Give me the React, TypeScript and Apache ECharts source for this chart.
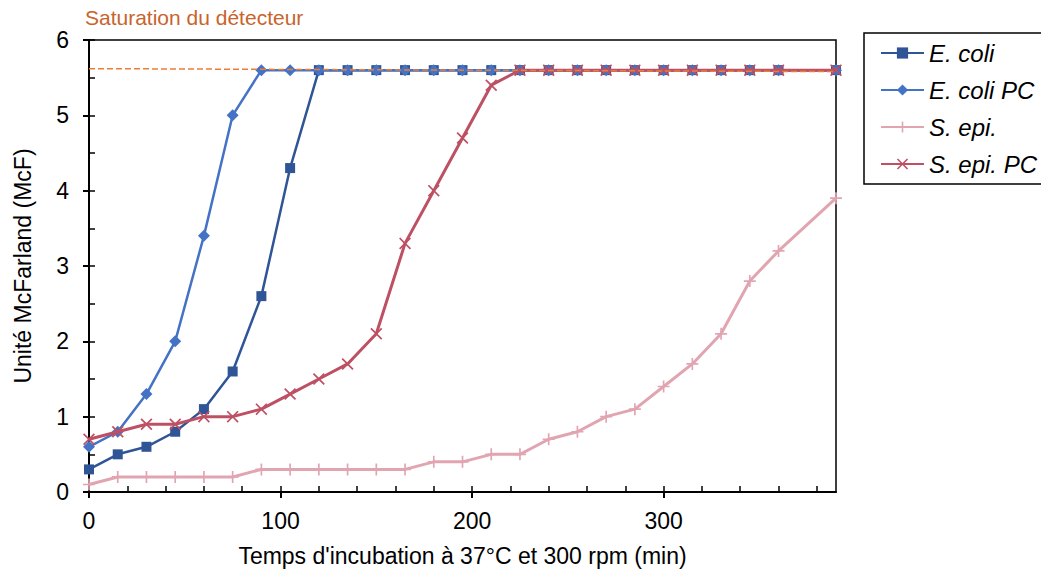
import React, { useEffect, useRef } from "react";
import * as echarts from "echarts";

// time points (min)
const times = [0, 15, 30, 45, 60, 75, 90, 105, 120, 135, 150, 165, 180, 195, 210, 225, 240, 255, 270, 285, 300, 315, 330, 345, 360, 390];

const eColi = [0.3, 0.5, 0.6, 0.8, 1.1, 1.6, 2.6, 4.3, 5.6, 5.6, 5.6, 5.6, 5.6, 5.6, 5.6, 5.6, 5.6, 5.6, 5.6, 5.6, 5.6, 5.6, 5.6, 5.6, 5.6, 5.6];
const eColiPC = [0.6, 0.8, 1.3, 2.0, 3.4, 5.0, 5.6, 5.6, 5.6, 5.6, 5.6, 5.6, 5.6, 5.6, 5.6, 5.6, 5.6, 5.6, 5.6, 5.6, 5.6, 5.6, 5.6, 5.6, 5.6, 5.6];
const sEpi = [0.1, 0.2, 0.2, 0.2, 0.2, 0.2, 0.3, 0.3, 0.3, 0.3, 0.3, 0.3, 0.4, 0.4, 0.5, 0.5, 0.7, 0.8, 1.0, 1.1, 1.4, 1.7, 2.1, 2.8, 3.2, 3.9];
const sEpiPC = [0.7, 0.8, 0.9, 0.9, 1.0, 1.0, 1.1, 1.3, 1.5, 1.7, 2.1, 3.3, 4.0, 4.7, 5.4, 5.6, 5.6, 5.6, 5.6, 5.6, 5.6, 5.6, 5.6, 5.6, 5.6, 5.6];

// detector saturation line
const satX = [0, 390];
const satY = [5.62, 5.58];

const seriesNames = ["E. coli", "E. coli PC", "S. epi.", "S. epi. PC"];

// axis ticks
const xMajorTicks = [0, 100, 200, 300];
const xMinorTicks = [0, 20, 40, 60, 80, 100, 120, 140, 160, 180, 200, 220, 240, 260, 280, 300, 320, 340, 360, 380];

const FONT = "'Liberation Sans', Arial, sans-serif";

const PLUS = "path://M4.3,0h1.4v4.3h4.3v1.4h-4.3v4.3h-1.4v-4.3h-4.3v-1.4h4.3z";
const CROSS = "path://M0,1L1,0L5,4L9,0L10,1L6,5L10,9L9,10L5,6L1,10L0,9L4,5Z";

const pairs = (xs: number[], ys: number[]) => xs.map((x, i) => [x, ys[i]]);

export default function App() {
  const ref = useRef<HTMLDivElement>(null);

  useEffect(() => {
    const chart = echarts.init(ref.current!, null, { renderer: "svg" });
    const axisLine = { show: true, lineStyle: { color: "#000", width: 2 } };
    chart.setOption({
      animation: false,
      backgroundColor: "#fff",
      textStyle: { fontFamily: FONT },
      grid: {
        left: 89,
        right: 1100 - 836,
        top: 40,
        bottom: 573 - 492,
        show: true,
        borderColor: "#000",
        borderWidth: 1.5,
        backgroundColor: "transparent",
        outerBoundsMode: "none",
      },
      graphic: [
        {
          type: "text",
          left: 85,
          top: 7,
          style: {
            text: "Saturation du détecteur",
            fontSize: 21,
            fontFamily: FONT,
            fill: "#C8642C",
          },
        },
      ],
      legend: {
        orient: "vertical",
        left: 864,
        top: 33,
        padding: [8, 20, 8, 16],
        itemGap: 13,
        itemWidth: 43,
        itemHeight: 14,
        borderColor: "#000",
        borderWidth: 1.5,
        data: seriesNames,
        textStyle: { fontSize: 24, fontStyle: "italic", color: "#000", fontFamily: FONT },
      },
      xAxis: [
        {
          type: "value",
          min: 0,
          max: 390,
          interval: 100,
          position: "bottom",
          name: "Temps d'incubation à 37°C et 300 rpm (min)",
          nameLocation: "middle",
          nameGap: 52,
          nameTextStyle: { fontSize: 23, color: "#000", fontFamily: FONT },
          axisLine,
          axisTick: { show: true, inside: false, length: 6, lineStyle: { color: "#000", width: 2 }, customValues: xMajorTicks },
          axisLabel: { fontSize: 23, color: "#000", margin: 17, fontFamily: FONT, customValues: xMajorTicks },
          splitLine: { show: false },
        },
        {
          type: "value",
          min: 0,
          max: 390,
          interval: 20,
          position: "bottom",
          axisLine: { show: false },
          axisTick: { show: true, inside: true, length: 6, lineStyle: { color: "#000", width: 1.5 }, customValues: xMinorTicks },
          axisLabel: { show: false },
          splitLine: { show: false },
        },
      ],
      yAxis: [
        {
          type: "value",
          min: 0,
          max: 6,
          interval: 1,
          position: "left",
          name: "Unité McFarland (McF)",
          nameLocation: "middle",
          nameGap: 55,
          nameTextStyle: { fontSize: 23, color: "#000", fontFamily: FONT },
          axisLine,
          axisTick: { show: true, inside: false, length: 6, lineStyle: { color: "#000", width: 2 } },
          axisLabel: { fontSize: 23, color: "#000", margin: 20, fontFamily: FONT },
          splitLine: { show: false },
        },
        {
          type: "value",
          min: 0,
          max: 6,
          interval: 0.5,
          position: "left",
          axisLine: { show: false },
          axisTick: { show: true, inside: true, length: 6, lineStyle: { color: "#000", width: 1.5 } },
          axisLabel: { show: false },
          splitLine: { show: false },
        },
      ],
      series: [
        {
          name: seriesNames[0],
          type: "line",
          data: pairs(times, eColi),
          symbol: "rect",
          symbolSize: 10,
          color: "#2F5597",
          lineStyle: { width: 2.5, color: "#2F5597" },
          itemStyle: { color: "#2F5597" },
          z: 2,
        },
        {
          name: seriesNames[1],
          type: "line",
          data: pairs(times, eColiPC),
          symbol: "diamond",
          symbolSize: 12,
          color: "#4472C4",
          lineStyle: { width: 2.5, color: "#4472C4" },
          itemStyle: { color: "#4472C4" },
          z: 3,
        },
        {
          name: seriesNames[2],
          type: "line",
          data: pairs(times, sEpi),
          symbol: PLUS,
          symbolSize: 12,
          color: "#E1A5B2",
          lineStyle: { width: 3, color: "#E1A5B2" },
          itemStyle: { color: "#E1A5B2" },
          z: 4,
        },
        {
          name: seriesNames[3],
          type: "line",
          data: pairs(times, sEpiPC),
          symbol: CROSS,
          symbolSize: 12,
          color: "#BE5064",
          lineStyle: { width: 3, color: "#BE5064" },
          itemStyle: { color: "#BE5064" },
          z: 5,
        },
        {
          name: "Saturation",
          type: "line",
          data: pairs(satX, satY),
          symbol: "none",
          lineStyle: { width: 1.5, color: "#ED7D31", type: [6, 3] },
          z: 6,
          silent: true,
        },
      ],
    });
    return () => chart.dispose();
  }, []);

  return (
    <div
      style={{
        position: "fixed",
        left: 0,
        top: 0,
        width: 1041,
        height: 573,
        overflow: "hidden",
        background: "#fff",
      }}
    >
      <div ref={ref} style={{ width: 1100, height: 573 }} />
    </div>
  );
}
